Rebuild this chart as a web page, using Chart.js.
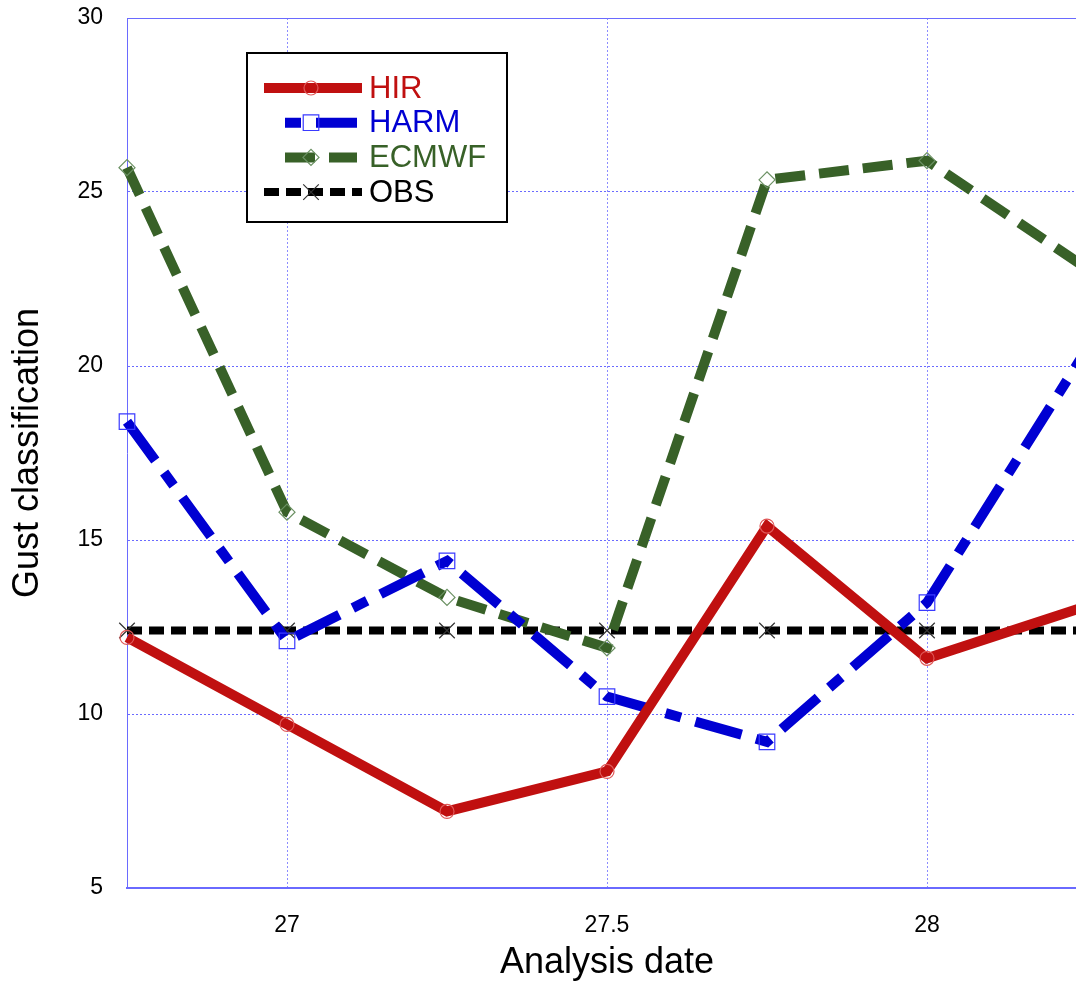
<!DOCTYPE html>
<html>
<head>
<meta charset="utf-8">
<title>Gust classification</title>
<script src="https://cdn.jsdelivr.net/npm/chart.js@4/dist/chart.umd.min.js"></script>
<style>
    html, body { margin: 0; padding: 0; background: #fff; overflow: hidden; }
    #wrap { width: 1100px; height: 986px; }
</style>
</head>
<body>
<div id="wrap"><canvas id="gust-chart" width="1100" height="986"></canvas></div>
<script>
// Analysis dates (day of month) and gust classification per model
const analysisDates = [26.75, 27, 27.25, 27.5, 27.75, 28, 28.25];
const hirValues = [12.2, 9.7, 7.2, 8.35, 15.4, 11.6, 13.1];
const harmValues = [18.4, 12.1, 14.4, 10.5, 9.2, 13.2, 20.5];
const ecmwfValues = [25.7, 15.8, 13.35, 11.9, 25.35, 25.9, 22.8];
const obsValues = [12.4, 12.4, 12.4, 12.4, 12.4, 12.4, 12.4];

const xTicks = [27, 27.5, 28];
const xTickLabels = ['27', '27.5', '28'];
const yTicks = [5, 10, 15, 20, 25, 30];

const FONT = '"Liberation Sans", Arial, Helvetica, sans-serif';
const GRID_COLOR = '#6a6aff';
const VGRID_COLOR = '#8c8cff';

function toPoints(values) {
    return analysisDates.map((x, i) => ({ x: x, y: values[i] }));
}

// Boxed legend inside the plot, upper left
const boxLegend = {
    id: 'boxLegend',
    afterDraw(chart) {
        const ctx = chart.ctx;
        const box = { x: 247, y: 53, w: 260, h: 169 };
        ctx.save();
        ctx.fillStyle = '#fff';
        ctx.fillRect(box.x, box.y, box.w, box.h);
        ctx.lineWidth = 2;
        ctx.strokeStyle = '#000';
        ctx.strokeRect(box.x, box.y, box.w, box.h);

        chart.data.datasets.forEach((ds, i) => {
            const y = 88 + i * 34.7;
            const seg = ds.legendSegment || [264, 362];
            ctx.save();
            ctx.beginPath();
            ctx.lineWidth = ds.borderWidth;
            ctx.strokeStyle = ds.borderColor;
            ctx.setLineDash(ds.borderDash || []);
            ctx.lineDashOffset = ds.legendDashOffset || 0;
            ctx.moveTo(seg[0], y);
            ctx.lineTo(seg[1], y);
            ctx.stroke();
            ctx.restore();

            ctx.save();
            ctx.strokeStyle = ds.pointBorderColor;
            ctx.fillStyle = 'rgba(0,0,0,0)';
            ctx.lineWidth = ds.pointBorderWidth;
            Chart.helpers.drawPoint(ctx, {
                pointStyle: ds.pointStyle,
                radius: ds.pointRadius,
                borderWidth: ds.pointBorderWidth
            }, 311, y);
            ctx.restore();

            ctx.fillStyle = ds.legendTextColor;
            ctx.font = '31px ' + FONT;
            ctx.textBaseline = 'middle';
            ctx.textAlign = 'left';
            ctx.fillText(ds.label, 369, y + 1);
        });
        ctx.restore();
    }
};

const ctx = document.getElementById('gust-chart');

new Chart(ctx, {
    type: 'line',
    data: {
        datasets: [
            {
                label: 'HIR',
                data: toPoints(hirValues),
                borderColor: '#c01010',
                borderWidth: 10,
                pointStyle: 'circle',
                pointRadius: 7,
                pointBorderColor: '#e05858',
                pointBorderWidth: 1.2,
                pointBackgroundColor: 'rgba(0,0,0,0)',
                legendTextColor: '#c01010'
            },
            {
                label: 'HARM',
                data: toPoints(harmValues),
                borderColor: '#0000d2',
                borderWidth: 10,
                borderDash: [48, 15, 16, 15],
                legendSegment: [285, 357],
                legendDashOffset: 63,
                pointStyle: 'rect',
                pointRadius: 11,
                pointBorderColor: '#3a3aff',
                pointBorderWidth: 1.2,
                pointBackgroundColor: 'rgba(0,0,0,0)',
                legendTextColor: '#0000d2'
            },
            {
                label: 'ECMWF',
                data: toPoints(ecmwfValues),
                borderColor: '#386128',
                borderWidth: 10,
                borderDash: [30, 14],
                legendSegment: [285, 357],
                pointStyle: 'rectRot',
                pointRadius: 8,
                pointBorderColor: '#6a9062',
                pointBorderWidth: 1.2,
                pointBackgroundColor: 'rgba(0,0,0,0)',
                legendTextColor: '#386128'
            },
            {
                label: 'OBS',
                data: toPoints(obsValues),
                borderColor: '#000',
                borderWidth: 8,
                borderDash: [15, 7],
                pointStyle: 'crossRot',
                pointRadius: 11,
                pointBorderColor: '#333',
                pointBorderWidth: 1.2,
                pointBackgroundColor: 'rgba(0,0,0,0)',
                legendTextColor: '#000'
            }
        ]
    },
    options: {
        responsive: false,
        animation: false,
        clip: false,
        layout: { padding: { top: 18, right: 13, left: 0, bottom: 0 } },
        plugins: {
            legend: { display: false },
            tooltip: { enabled: false }
        },
        elements: { line: { tension: 0 } },
        scales: {
            x: {
                type: 'linear',
                min: 26.75,
                max: 28.25,
                afterFit(scale) {
                    scale.height = 98;
                    scale.paddingLeft = 0;
                    scale.paddingRight = 0;
                },
                afterBuildTicks(scale) {
                    scale.ticks = xTicks.map(v => ({ value: v }));
                },
                ticks: {
                    autoSkip: false,
                    maxRotation: 0,
                    padding: 24,
                    color: '#000',
                    font: { family: FONT, size: 23 },
                    callback: (value) => xTickLabels[xTicks.indexOf(value)]
                },
                grid: { color: VGRID_COLOR, lineWidth: 1, drawTicks: false },
                border: { display: true, color: GRID_COLOR, width: 2, dash: [2, 2] },
                title: {
                    display: true,
                    text: 'Analysis date',
                    color: '#000',
                    font: { family: FONT, size: 36 },
                    padding: { top: 0, bottom: 1 }
                }
            },
            y: {
                min: 5,
                max: 30,
                afterFit(scale) {
                    scale.width = 127;
                    scale.paddingTop = 0;
                    scale.paddingBottom = 0;
                },
                afterBuildTicks(scale) {
                    scale.ticks = yTicks.map(v => ({ value: v }));
                },
                ticks: {
                    padding: 24,
                    color: '#000',
                    font: { family: FONT, size: 23 }
                },
                grid: { color: GRID_COLOR, lineWidth: 1, drawTicks: false },
                border: {
                    display: true,
                    color: GRID_COLOR,
                    width: 1,
                    dash: (c) => (c.tick && c.tick.value === 30 ? [] : [2, 2])
                },
                title: {
                    display: true,
                    text: 'Gust classification',
                    color: '#000',
                    font: { family: FONT, size: 36 },
                    padding: { top: 6, bottom: 0 }
                }
            }
        }
    },
    plugins: [boxLegend]
});
</script>
</body>
</html>
